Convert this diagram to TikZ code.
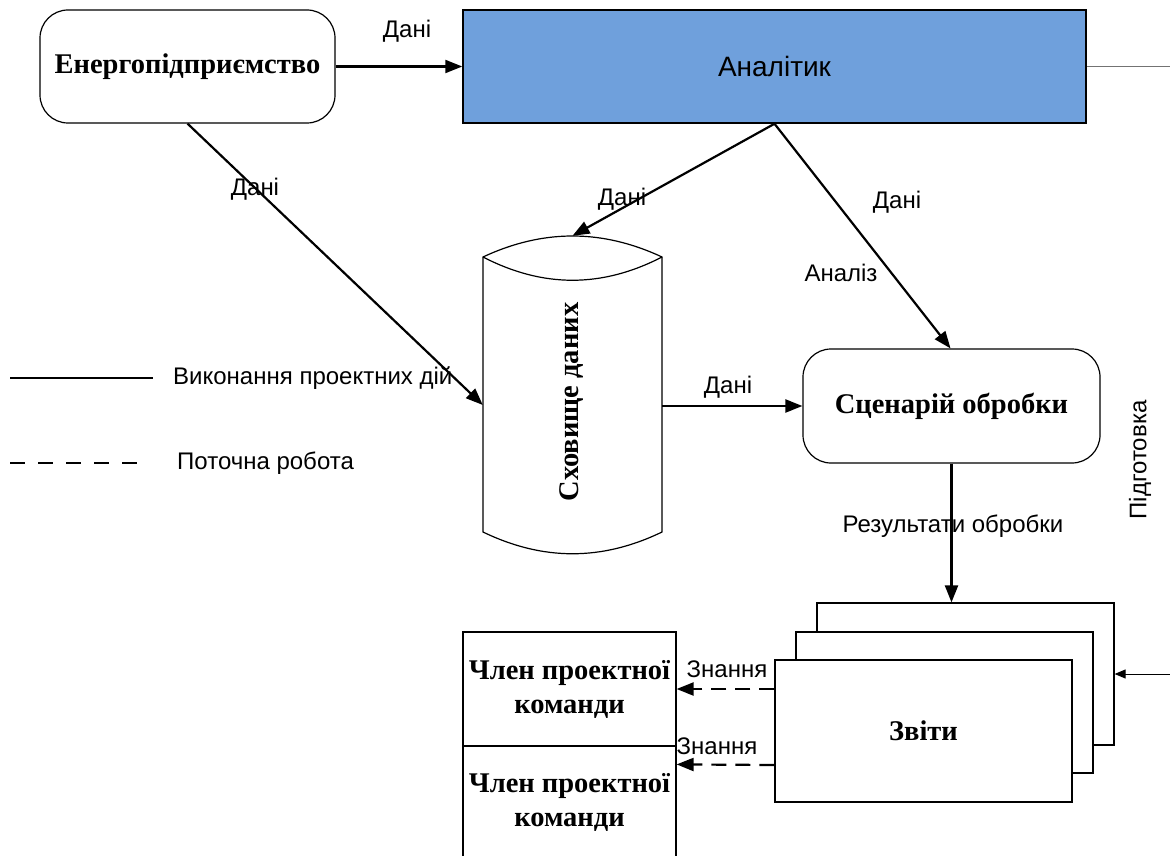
\documentclass[tikz,border=0pt]{standalone}
\usepackage{fontspec}
\setmainfont{Liberation Serif}
\setsansfont{Liberation Sans}
\usetikzlibrary{arrows.meta}
\definecolor{anblue}{RGB}{111,160,220}
\begin{document}
\begin{tikzpicture}[x=1pt,y=-1pt,
  box/.style={draw, line width=1.2pt, inner sep=0pt, align=center,
    font=\fontsize{28.5}{34}\selectfont\bfseries},
  rbox/.style={box, rounded corners=28pt},
  lbl/.style={font=\sffamily\fontsize{24}{27}\selectfont, inner sep=0pt},
  arr/.style={line width=2.2pt, -{Triangle[length=17pt,width=13pt]}},
  darr/.style={arr, dash pattern=on 15pt off 9pt},
  thinarr/.style={line width=1pt, -{Triangle[length=11pt,width=9pt]}}
]
\useasboundingbox (0,0) rectangle (1170,856);

% main boxes
\node[rbox, minimum width=295pt, minimum height=113pt] (en) at (187.5,66.5) {Енергопідприємство};
\node[box, fill=anblue, line width=1.5pt, minimum width=623pt, minimum height=113pt,
      font=\sffamily\fontsize{28}{32}\selectfont] (an) at (774.5,66.5) {Аналітик};
\node[rbox, minimum width=297pt, minimum height=114pt] (sc) at (951.5,406) {Сценарій обробки};

% cylinder
\node[inner sep=0pt, minimum width=179pt, minimum height=318pt] (cyl) at (572.5,395) {};
\draw[line width=1.2pt, fill=white]
  (483,257) .. controls (543,229) and (602,229) .. (662,257)
  -- (662,532) .. controls (602,561) and (543,561) .. (483,532) -- cycle;
\draw[line width=1.2pt] (483,257) .. controls (543,288) and (602,288) .. (662,257);
\node[rotate=90, font=\fontsize{28.5}{34}\selectfont\bfseries] (cyltxt) at (572,402) {Сховище даних};

% reports stack
\node[box, fill=white, minimum width=297pt, minimum height=142pt] (back) at (965.5,674) {};
\node[box, fill=white, minimum width=297pt, minimum height=141pt] (mid) at (944.5,702.5) {};
\node[box, fill=white, minimum width=297pt, minimum height=142pt] (front) at (923.5,731) {Звіти};

% team members
\node[box, minimum width=213pt, minimum height=114pt] (m1) at (569.5,689) {Член проектної\\команди};
\node[box, minimum width=213pt, minimum height=112pt] (m2) at (569.5,802) {Член проектної\\команди};

% connectors
\draw[arr] (en.east) -- (an.west);
\node[lbl] (l1) at (407,31) {Дані};

\draw[arr] (en.south) -- ([yshift=-10pt]cyl.west);
\node[lbl] (l2) at (255,189) {Дані};

\draw[arr] (an.south) -- (cyl.north);
\node[lbl] (l3) at (622,199) {Дані};

\draw[arr] (an.south) -- ([xshift=-1pt]sc.north);
\node[lbl] (l4) at (897,202) {Дані};
\node[lbl] (l5) at (841,273) {Аналіз};

\draw[arr] (cyl.east |- sc.west) -- (sc.west);
\node[lbl] (l6) at (728,387) {Дані};

\draw[arr] (sc.south) -- (sc.south |- back.north);
\node[lbl] (l7) at (953,526) {Результати обробки};

\draw[darr] (front.west |- m1.east) -- (m1.east);
\node[lbl] (l8) at (727,669) {Знання};
\draw[darr] (front.west |- 0,765) -- ([yshift=-19pt]m2.north east);
\node[lbl] (l9) at (717,746) {Знання};

% right side
\coordinate (rgt1) at (1170,66.5);
\draw[line width=1.8pt, black!55] (an.east) -- (rgt1);
\coordinate (rgt2) at (1170,674);
\draw[thinarr] (rgt2) -- (back.east);
\node[lbl, rotate=90] (prep) at (1140,460) {Підготовка};

% legend
\coordinate (ls1) at (10,378);
\coordinate (ls2) at (153,378);
\draw[line width=2.2pt] (ls1) -- (ls2);
\node[lbl, anchor=west] (lg1) at (173,378) {Виконання проектних дій};
\coordinate (ld1) at (10,463);
\coordinate (ld2) at (145,463);
\draw[line width=2.2pt, dash pattern=on 15pt off 13pt] (ld1) -- (ld2);
\node[lbl, anchor=west] (lg2) at (177,463) {Поточна робота};
\end{tikzpicture}
\end{document}
